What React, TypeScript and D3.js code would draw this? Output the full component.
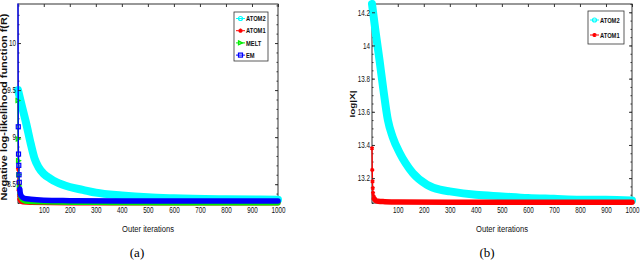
import React, { useEffect, useRef } from 'react'
import * as d3 from 'd3'

// x ticks shared by both panels
const xTickVals = [100, 200, 300, 400, 500, 600, 700, 800, 900, 1000]
const leftYTicks = [8.5, 9, 9.5, 10]
const rightYTicks = [13.2, 13.4, 13.6, 13.8, 14, 14.2]

// panel (a) : negative log-likelihood
const aAtom2It = [1, 15, 33, 50, 65, 80, 100, 125, 150, 200, 250, 300, 400, 500, 600, 800, 1000]
const aAtom2Val = [9.5, 9.34, 9.14, 8.93, 8.77, 8.68, 8.61, 8.56, 8.52, 8.47, 8.44, 8.41, 8.38, 8.36, 8.35, 8.34, 8.335]
const aAtom1It = [1, 2, 3, 5, 8, 12, 20, 50, 200, 1000]
const aAtom1Val = [8.66, 8.52, 8.44, 8.38, 8.34, 8.32, 8.31, 8.305, 8.3, 8.3]
const aMeltIt = [1, 2, 3, 4, 6, 8, 12, 20, 40, 100, 300, 600, 1000]
const aMeltVal = [9.39, 8.98, 8.75, 8.6, 8.48, 8.41, 8.36, 8.33, 8.315, 8.31, 8.305, 8.3, 8.3]
const aEmIt = [1, 2, 3, 4, 5, 6, 8, 10, 15, 25, 50, 100, 200, 400, 700, 1000]
const aEmVal = [10.42, 9.11, 8.82, 8.7, 8.6, 8.52, 8.45, 8.4, 8.37, 8.35, 8.34, 8.33, 8.325, 8.32, 8.32, 8.32]

// panel (b) : log|X|
const bAtom2It = [1, 15, 30, 45, 62, 80, 108, 130, 158, 212, 262, 300, 400, 500, 600, 700, 800, 900, 1000]
const bAtom2Val = [14.25, 14.08, 13.91, 13.73, 13.55, 13.45, 13.35, 13.29, 13.23, 13.16, 13.13, 13.12, 13.1, 13.09, 13.08, 13.075, 13.07, 13.07, 13.065]
const bAtom1It = [1, 2, 3, 4, 5, 7, 10, 15, 25, 50, 100, 300, 600, 1000]
const bAtom1Val = [13.38, 13.25, 13.18, 13.14, 13.11, 13.09, 13.075, 13.065, 13.06, 13.058, 13.056, 13.055, 13.055, 13.055]

type Series = { name: string; it: number[]; val: number[]; color: string; marker: string; width: number; bandFrom: number }

const font = "'Liberation Sans', Arial, Helvetica, sans-serif"

// squeeze text horizontally, the original uses a condensed face
const narrow = (sel: any, k: number) => {
  sel.each(function (this: any) {
    const t = d3.select(this)
    const x0 = +(t.attr('x') || 0)
    t.attr('x', x0 / k).attr('transform', `scale(${k},1)`)
  })
}

const drawPanel = (svg: any, opt: any) => {
  const { x0, x1, y0, y1, yDomain, yTicks, yMinorStep, ylabel, series, legend, caption } = opt
  const g = svg.append('g')
  const x = d3.scaleLinear().domain([1, 1000]).range([x0, x1])
  const y = d3.scaleLinear().domain(yDomain).range([y1, y0])

  const minor = d3.range(Math.ceil(yDomain[0] / yMinorStep - 1e-6), Math.floor(yDomain[1] / yMinorStep) + 1).map(i => i * yMinorStep)

  const ax = (a: any, tr: string, labels: boolean) => {
    const s = g.append('g').attr('transform', tr).call(a)
    s.select('.domain').remove()
    s.selectAll('line').attr('stroke', '#333')
    s.selectAll('text').attr('font-family', font).attr('font-size', 8.5).attr('fill', '#111')
    if (!labels) s.selectAll('text').remove()
    else narrow(s.selectAll('text'), 0.74)
    return s
  }

  g.append('rect').attr('x', x0).attr('y', y0).attr('width', x1 - x0).attr('height', y1 - y0)
    .attr('fill', 'none').attr('stroke', '#333').attr('stroke-width', 1)

  ax(d3.axisBottom(x).tickValues(xTickVals).tickSize(-3).tickPadding(4).tickFormat(d3.format('d')), `translate(0,${y1})`, true)
  ax(d3.axisTop(x).tickValues(xTickVals).tickSize(-3), `translate(0,${y0})`, false)
  ax(d3.axisLeft(y).tickValues(minor).tickSize(-1.5), `translate(${x0},0)`, false)
  ax(d3.axisRight(y).tickValues(minor).tickSize(-1.5), `translate(${x1},0)`, false)
  ax(d3.axisRight(y).tickValues(yTicks).tickSize(-3), `translate(${x1},0)`, false)

  const line = d3.line<[number, number]>().x(d => x(d[0])).y(d => y(d[1])).curve(d3.curveMonotoneX)

  const marker = (sel: any, kind: string, color: string, cx: number, cy: number, r: number) => {
    if (kind === 'o') sel.append('circle').attr('cx', cx).attr('cy', cy).attr('r', r).attr('fill', 'none').attr('stroke', color).attr('stroke-width', 1.2)
    else if (kind === 's') sel.append('rect').attr('x', cx - r).attr('y', cy - r).attr('width', 2 * r).attr('height', 2 * r).attr('fill', 'none').attr('stroke', color).attr('stroke-width', 1.2)
    else if (kind === '>') sel.append('path').attr('d', `M${cx - r},${cy - r}L${cx + r},${cy}L${cx - r},${cy + r}Z`).attr('fill', 'none').attr('stroke', color).attr('stroke-width', 1.2)
    else sel.append('path').attr('d', d3.symbol(d3.symbolAsterisk, r * r * 3)()).attr('transform', `translate(${cx},${cy})`).attr('stroke', color).attr('stroke-width', 1.5)
  }

  series.forEach((s: Series) => {
    const pts = s.it.map((t, i) => [t, s.val[i]] as [number, number])
    // thin connecting line, where markers are sparse
    g.append('path').attr('d', line(pts)).attr('fill', 'none').attr('stroke', s.color).attr('stroke-width', 1.3)
    // dense marker band
    const band = pts.filter(p => p[0] >= s.bandFrom)
    g.append('path').attr('d', line(band)).attr('fill', 'none').attr('stroke', s.color)
      .attr('stroke-width', s.width).attr('stroke-linecap', 'round').attr('stroke-linejoin', 'round')
    const mg = g.append('g')
    pts.filter(p => p[0] < s.bandFrom && p[1] < yDomain[1]).forEach(p => marker(mg, s.marker, s.color, x(p[0]), y(p[1]), 2))
  })

  // y axis on top of the lines so the labels stay readable
  ax(d3.axisLeft(y).tickValues(yTicks).tickSize(-3).tickPadding(2).tickFormat((d: any) => String(d)), `translate(${x0},0)`, true)

  // legend
  const lg = g.append('g')
  lg.append('rect').attr('x', legend.x).attr('y', legend.y).attr('width', legend.w).attr('height', legend.h)
    .attr('fill', '#fff').attr('stroke', '#333').attr('stroke-width', 0.8)
  legend.items.forEach((s: Series, i: number) => {
    const yy = legend.y + legend.first + i * legend.step
    lg.append('line').attr('x1', legend.x + 2).attr('x2', legend.x + 11).attr('y1', yy).attr('y2', yy).attr('stroke', s.color).attr('stroke-width', 1)
    marker(lg, s.marker, s.color, legend.x + 6.5, yy, 2)
    const t = lg.append('text').attr('x', legend.x + 12).attr('y', yy + 2.8).text(s.name)
      .attr('font-family', font).attr('font-size', 8).attr('font-weight', 'bold').attr('fill', '#111')
    narrow(t, 0.72)
  })

  // labels
  g.append('text').attr('transform', `translate(${ylabel.x},${ylabel.y}) rotate(-90)`).attr('text-anchor', 'middle')
    .attr('font-family', font).attr('font-size', ylabel.size).attr('font-weight', 'bold').attr('fill', '#111')
    .attr('textLength', ylabel.len).attr('lengthAdjust', 'spacingAndGlyphs')
    .text(ylabel.text)
  const xl = g.append('text').attr('x', (x0 + x1) / 2).attr('y', 232).attr('text-anchor', 'middle')
    .attr('font-family', font).attr('font-size', 9.5).attr('fill', '#111').text('Outer iterations')
  narrow(xl, 0.8)
  g.append('text').attr('x', caption.x).attr('y', 257).attr('text-anchor', 'middle')
    .attr('font-family', "'Liberation Serif', 'Times New Roman', serif").attr('font-size', 13).attr('fill', '#000').text(caption.text)
}

const App = () => {
  const ref = useRef<SVGSVGElement>(null)
  useEffect(() => {
    const svg = d3.select(ref.current)
    svg.selectAll('*').remove()
    const atom2a: Series = { name: 'ATOM2', it: aAtom2It, val: aAtom2Val, color: '#00ffff', marker: 'o', width: 8, bandFrom: 1 }
    const atom1a: Series = { name: 'ATOM1', it: aAtom1It, val: aAtom1Val, color: '#ff0000', marker: '*', width: 5, bandFrom: 8 }
    const melta: Series = { name: 'MELT', it: aMeltIt, val: aMeltVal, color: '#00ee00', marker: '>', width: 5, bandFrom: 8 }
    const ema: Series = { name: 'EM', it: aEmIt, val: aEmVal, color: '#0000ff', marker: 's', width: 5.5, bandFrom: 8 }
    drawPanel(svg, {
      x0: 18, x1: 278, y0: 4, y1: 203, yDomain: [8.3, 10.415], yTicks: leftYTicks, yMinorStep: 0.1,
      ylabel: { text: 'Negative log-likelihood function f(R)', x: 6.5, y: 107, size: 9, len: 187 },
      series: [atom2a, atom1a, melta, ema],
      legend: { x: 234, y: 12, w: 34, h: 49, first: 6.5, step: 12.2, items: [atom2a, atom1a, melta, ema] },
      caption: { text: '(a)', x: 137 },
    })
    const atom2b: Series = { name: 'ATOM2', it: bAtom2It, val: bAtom2Val, color: '#00ffff', marker: 'o', width: 8, bandFrom: 1 }
    const atom1b: Series = { name: 'ATOM1', it: bAtom1It, val: bAtom1Val, color: '#ff0000', marker: '*', width: 5.5, bandFrom: 10 }
    drawPanel(svg, {
      x0: 372, x1: 632, y0: 4, y1: 203, yDomain: [13.05, 14.25], yTicks: rightYTicks, yMinorStep: 0.05,
      ylabel: { text: 'log|X|', x: 355, y: 104, size: 8, len: 27 },
      series: [atom2b, atom1b],
      legend: { x: 588, y: 11, w: 36, h: 33, first: 9, step: 15, items: [atom2b, atom1b] },
      caption: { text: '(b)', x: 487 },
    })
  }, [])
  return (
    <svg ref={ref} width={640} height={265} style={{ position: 'absolute', left: 0, top: 0, background: '#fff' }} />
  )
}

export default App
